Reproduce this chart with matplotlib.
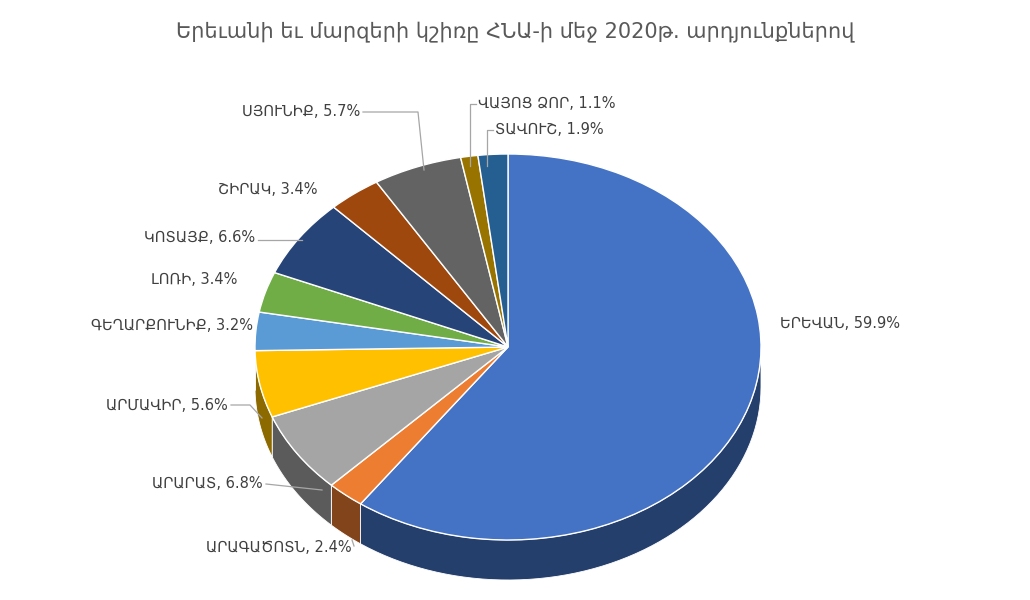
import numpy as np
import matplotlib
matplotlib.use("Agg")
import matplotlib.pyplot as plt
from matplotlib.patches import Polygon
import matplotlib.colors as mc

title = "Երեւանի եւ մարզերի կշիռը ՀՆԱ-ի մեջ 2020թ. արդյունքներով"
regions = ["ԵՐԵՎԱՆ", "ԱՐԱԳԱԾՈՏՆ", "ԱՐԱՐԱՏ", "ԱՐՄԱՎԻՐ", "ԳԵՂԱՐՔՈՒՆԻՔ", "ԼՈՌԻ",
           "ԿՈՏԱՅՔ", "ՇԻՐԱԿ", "ՍՅՈՒՆԻՔ", "ՎԱՅՈՑ ՁՈՐ", "ՏԱՎՈՒՇ"]
shares = [59.9, 2.4, 6.8, 5.6, 3.2, 3.4, 6.6, 3.4, 5.7, 1.1, 1.9]
colors = ["#4472C4", "#ED7D31", "#A5A5A5", "#FFC000", "#5B9BD5", "#70AD47",
          "#264478", "#9E480E", "#636363", "#997300", "#255E91"]

W, H = 1030, 600
cx, cy, rx, ry = 508, 347, 253, 193
depth = 40 / ry

fig = plt.figure(figsize=(W/100, H/100), dpi=100)
ax = fig.add_axes([0, 0, 1, 1])
ax.set_xlim((0 - cx) / rx, (W - cx) / rx)
ax.set_ylim((cy - H) / ry, cy / ry)
ax.axis("off")

def P(px, py):
    return ((px - cx) / rx, (cy - py) / ry)

# side faces
total = sum(shares)
start = 90.0
for v, c in zip(shares, colors):
    a0 = start - 360 * v / total
    a1 = start
    start = a0
    lo, hi = a0 % 360, None
    # convert to range and intersect with front half (180..360)
    s, e = a0, a1
    while s < 0:
        s += 360; e += 360
    for off in (0, 360):
        ss, ee = max(s, 180 + off), min(e, 360 + off)
        if ee > ss:
            t = np.radians(np.linspace(ss, ee, 60))
            top = np.c_[np.cos(t), np.sin(t)]
            bot = top[::-1] - [0, depth]
            dark = np.array(mc.to_rgb(c)) * 0.55
            ax.add_patch(Polygon(np.r_[top, bot], closed=True, fc=dark, ec="white", lw=0.6, zorder=1))

ax.pie(shares, colors=colors, startangle=90, counterclock=False,
       wedgeprops=dict(edgecolor="white", linewidth=1), frame=True)
ax.set_aspect("auto")
ax.set_xlim((0 - cx) / rx, (W - cx) / rx)
ax.set_ylim((cy - H) / ry, cy / ry)
ax.axis("off")

# label layout: (x, y, ha, leader points)
layout = [
    (780, 323, "left", None),
    (352, 548, "right", [(354, 546), (352, 540)]),
    (263, 483, "right", [(266, 484), (322, 490)]),
    (228, 405, "right", [(231, 405), (250, 405), (262, 418)]),
    (253, 325, "right", None),
    (237, 280, "right", None),
    (255, 237, "right", [(258, 240), (302, 240)]),
    (318, 190, "right", None),
    (360, 111, "right", [(363, 112), (418, 112), (424, 170)]),
    (478, 104, "left", [(476, 104), (470, 104), (470, 166)]),
    (495, 130, "left", [(493, 130), (487, 130), (487, 166)]),
]
for name, v, (x, y, ha, lead) in zip(regions, shares, layout):
    ax.text(*P(x, y), f"{name}, {v}%", ha=ha, va="center", fontsize=10.5,
            color="#404040", family=["DejaVu Sans"])
    if lead:
        pts = np.array([P(*p) for p in lead])
        ax.plot(pts[:, 0], pts[:, 1], color="#A6A6A6", lw=0.9)

fig.text(0.5, 1 - 32 / H, title, ha="center", va="center", fontsize=15,
         color="#595959", family=["DejaVu Sans"])
fig.savefig("out.png", dpi=100, facecolor="white")
